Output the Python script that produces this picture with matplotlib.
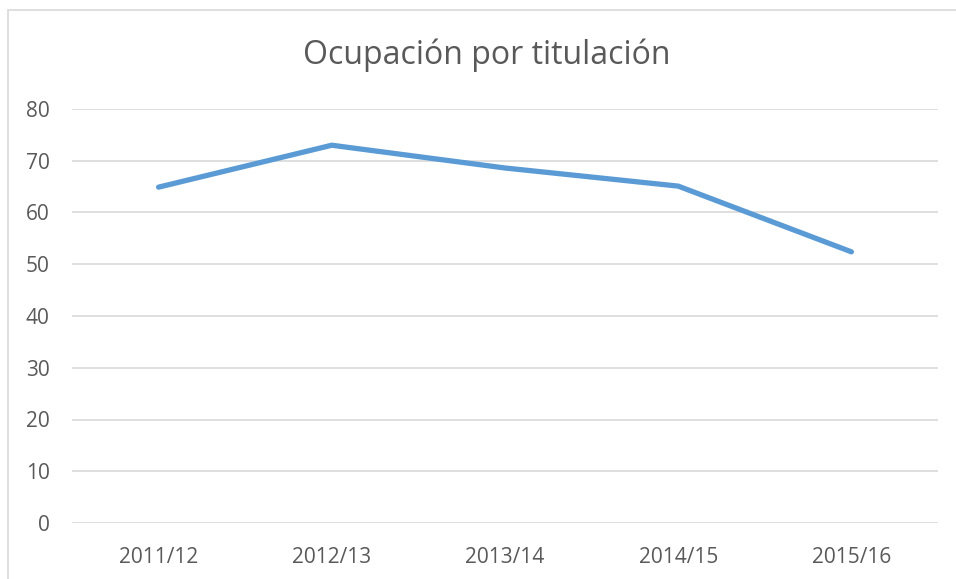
import matplotlib.pyplot as plt
from matplotlib.patches import Rectangle

cursos = ["2011/12", "2012/13", "2013/14", "2014/15", "2015/16"]
ocupacion = [64.9, 73.0, 68.6, 65.1, 52.4]
yticks = [0, 10, 20, 30, 40, 50, 60, 70, 80]

plt.rcParams["font.family"] = ["Open Sans", "DejaVu Sans"]

fig = plt.figure(figsize=(9.56, 5.79), dpi=100)
ax = fig.add_axes([72/956, 1-523/579, (938-72)/956, (523-109)/579])

x = list(range(len(cursos)))
ax.plot(x, ocupacion, color="#5B9BD5", linewidth=3.8, solid_capstyle="round", solid_joinstyle="round", zorder=3)

ax.set_xlim(-0.5, len(cursos)-0.5)
ax.set_ylim(0, 80)
ax.set_yticks(yticks)
ax.set_xticks(x)
ax.set_xticklabels(cursos)
ax.tick_params(length=0, colors="#595959", labelsize=15)
ax.tick_params(axis="y", pad=16)
ax.tick_params(axis="x", pad=17)
ax.grid(axis="y", color="#d9d9d9", linewidth=1.2)
ax.set_axisbelow(True)
for s in ax.spines.values():
    s.set_visible(False)

fig.text(487/956, 1-55/579, "Ocupación por titulación", ha="center", va="center", fontsize=23, color="#595959")

# marco del gráfico
fig.patches.append(Rectangle((8/956, -0.1), 1.2, 1.1-10/579, transform=fig.transFigure,
                             fill=False, edgecolor="#d9d9d9", linewidth=1.2))

plt.savefig("out.png", dpi=100)
